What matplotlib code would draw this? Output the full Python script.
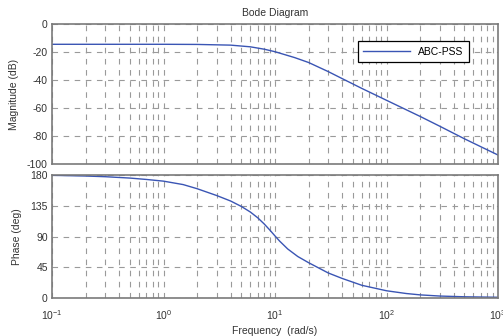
import numpy as np
import matplotlib
matplotlib.use("Agg")
import matplotlib.pyplot as plt
from matplotlib.ticker import LogLocator, FixedLocator, NullFormatter

plt.rcParams['font.family'] = ['Liberation Sans', 'DejaVu Sans']
plt.rcParams['mathtext.fontset'] = 'custom'
plt.rcParams['mathtext.rm'] = 'Liberation Sans'

# frequency response of the ABC-PSS
freq_mag = [0.1, 0.5, 1, 2, 4, 6, 8, 10, 15, 20, 30, 40, 60, 100, 200, 300, 500, 1000]
mag_db = [-14.5, -14.5, -14.5, -14.6, -15.1, -16.3, -18.0, -19.8, -24.0, -27.5,
          -34.0, -39.0, -46.0, -54.5, -66.0, -73.0, -82.0, -93.6]

freq_ph = [0.1, 0.2, 0.3, 0.5, 0.7, 1.0, 1.5, 2.0, 3.0, 4.0, 5.0, 6.0, 7.0, 8.0,
           9.0, 10, 11, 13, 16, 20, 30, 40, 60, 100, 150, 200, 300, 500, 1000]
phase_deg = [179.5, 178.5, 177.5, 175.5, 173.5, 171, 166, 160, 150, 142, 134, 126,
             117.5, 108.5, 99.5, 91, 83.5, 72, 61, 52, 37, 29, 19, 11, 7, 5, 3.3, 2.2, 1.5]

mag_ticks = [0, -20, -40, -60, -80, -100]
ph_ticks = [0, 45, 90, 135, 180]
x_ticks = [0.1, 1, 10, 100, 1000]
x_labels = [r'$10^{-1}$', r'$10^{0}$', r'$10^{1}$', r'$10^{2}$', r'$10^{3}$']

line_col = '#3a55b4'
frame_col = '#7a7a7a'
text_col = '#333333'
grid_kw = dict(color='#9a9a9a', linestyle=(0, (5, 5)), linewidth=0.8)

fig = plt.figure(figsize=(5.03, 3.36), dpi=100)
ax_mag = fig.add_axes([0.1034, 0.5119, 0.8867, 0.4167])
ax_ph = fig.add_axes([0.1034, 0.1122, 0.8867, 0.367])

ax_mag.semilogx(freq_mag, mag_db, color=line_col, linewidth=1.0, label='ABC-PSS')
ax_ph.semilogx(freq_ph, phase_deg, color=line_col, linewidth=1.0)

for ax in (ax_mag, ax_ph):
    ax.set_xlim(0.1, 1000)
    ax.xaxis.set_major_locator(FixedLocator(x_ticks))
    ax.xaxis.set_minor_locator(LogLocator(base=10, subs=np.arange(2, 10), numticks=20))
    ax.xaxis.set_minor_formatter(NullFormatter())
    ax.grid(True, which='both', axis='x', **grid_kw)
    ax.grid(True, which='major', axis='y', **grid_kw)
    ax.tick_params(which='both', direction='in', length=0, labelsize=7.5,
                   colors=text_col, pad=3)
    ax.tick_params(axis='x', pad=7)
    for s in ax.spines.values():
        s.set_color(frame_col)
        s.set_linewidth(1.2)

ax_mag.set_ylim(-100, 0)
ax_mag.set_yticks(mag_ticks)
ax_mag.set_yticklabels([str(t) for t in mag_ticks])
ax_mag.set_xticklabels([])
ax_mag.set_ylabel('Magnitude (dB)', fontsize=7.5, color=text_col, labelpad=6)
ax_mag.set_title('Bode Diagram', fontsize=7.5, color=text_col, pad=6)

leg = ax_mag.legend(loc='upper right', bbox_to_anchor=(0.935, 0.875), fontsize=7.5,
                    fancybox=False, framealpha=1, edgecolor='black',
                    handlelength=4.5, borderpad=0.5, borderaxespad=0)
leg.get_frame().set_linewidth(0.9)

ax_ph.set_ylim(0, 180)
ax_ph.set_yticks(ph_ticks)
ax_ph.set_xticklabels(x_labels)
ax_ph.set_ylabel('Phase (deg)', fontsize=7.5, color=text_col, labelpad=6)
ax_ph.set_xlabel('Frequency  (rad/s)', fontsize=7.5, color=text_col, labelpad=3)

fig.align_ylabels([ax_mag, ax_ph])
fig.savefig('out.png', dpi=100)
